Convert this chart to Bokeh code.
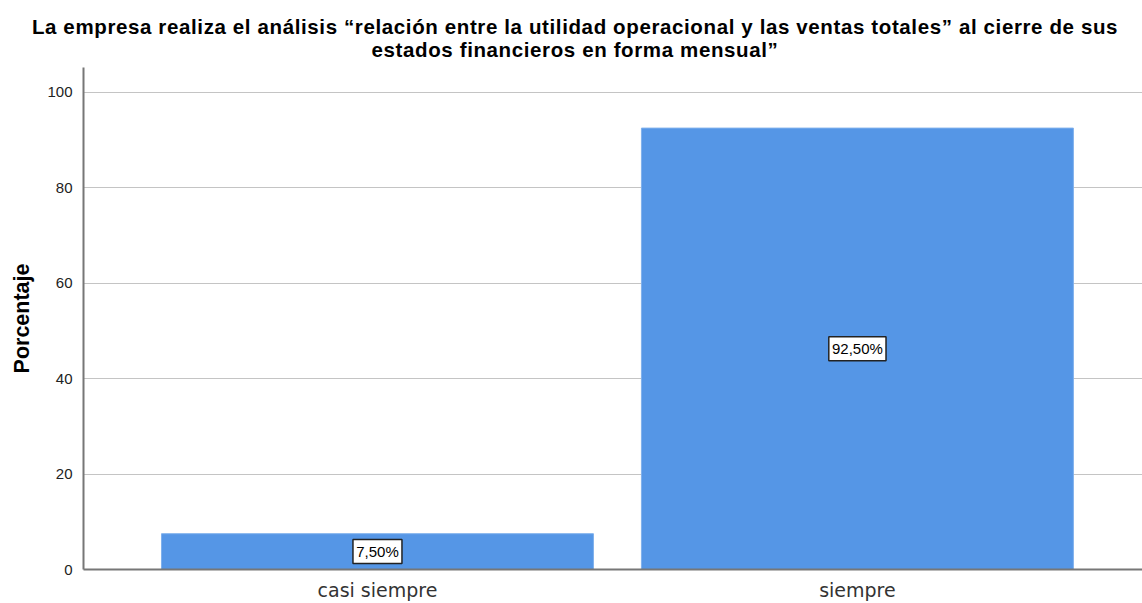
from bokeh.plotting import figure
from bokeh.models import ColumnDataSource, Range1d, FixedTicker, Div
from bokeh.layouts import column
from bokeh.core.properties import value
from bokeh.embed import file_html
from bokeh.resources import INLINE

categories = ["casi siempre", "siempre"]
values = [7.5, 92.5]
labels = ["7,50%", "92,50%"]
title_line1 = "La empresa realiza el análisis “relación entre la utilidad operacional y las ventas totales” al cierre de sus"
title_line2 = "estados financieros en forma mensual”"

xpos = list(range(len(categories)))
src = ColumnDataSource(dict(
    x=xpos, val=values, half=[v / 2 for v in values], lab=labels,
    boxw=[8.2 * len(s) + 8 for s in labels],  # box sized to its text
))

title_div = Div(
    text=(f'<div style="margin-left:8px; width:1134px; padding-top:15px; text-align:center; '
          f'font-family:\'Liberation Sans\', Arial, sans-serif; font-weight:bold; font-size:20.5px; '
          f'letter-spacing:0.62px; line-height:23px; color:#000;">{title_line1}<br>{title_line2}</div>'),
    width=1142, height=67, margin=0)

p = figure(width=1142, height=536, output_backend="svg", toolbar_location=None,
           x_range=Range1d(-0.6125, 1.594), y_range=Range1d(0, 105.2),
           min_border_left=83, min_border_right=0, min_border_bottom=32, min_border_top=0)
p.title = None

p.vbar(x="x", top="val", width=0.9, source=src, fill_color="#5596E6", line_color="#7FB0EC", line_width=1)

# value boxes
p.rect(x="x", y="half", width="boxw", height=24, width_units="screen", height_units="screen", source=src,
       fill_color="white", line_color="#222222", line_width=1.5)
p.text(x="x", y="half", text="lab", source=src, text_align="center", text_baseline="middle",
       text_font=value("Liberation Sans"), text_font_size="15px", text_color="#000000")

p.outline_line_color = None
p.xgrid.grid_line_color = None
p.ygrid.grid_line_color = "#C4C4C4"
p.ygrid.grid_line_width = 1
p.yaxis.ticker = FixedTicker(ticks=[0, 20, 40, 60, 80, 100])
p.yaxis.axis_label = "Porcentaje"
p.yaxis.axis_label_text_font = "Liberation Sans"
p.yaxis.axis_label_text_font_size = "21.5px"
p.yaxis.axis_label_text_font_style = "bold"
p.yaxis.axis_label_text_color = "#000000"
p.yaxis.axis_label_standoff = 10
p.yaxis.major_label_text_font = "Liberation Sans"
p.yaxis.major_label_text_font_size = "15px"
p.yaxis.major_label_text_color = "#222222"
p.yaxis.major_label_standoff = 5
p.yaxis.major_tick_line_color = None
p.yaxis.minor_tick_line_color = None
p.yaxis.axis_line_color = "#777777"
p.yaxis.axis_line_width = 2

p.xaxis.ticker = FixedTicker(ticks=xpos)
p.xaxis.major_label_overrides = {i: c for i, c in zip(xpos, categories)}
p.xaxis.major_label_text_font = "DejaVu Sans"
p.xaxis.major_label_text_font_size = "19px"
p.xaxis.major_label_text_color = "#333333"
p.xaxis.major_tick_line_color = None
p.xaxis.minor_tick_line_color = None
p.xaxis.axis_line_color = "#777777"
p.xaxis.axis_line_width = 2
p.xaxis.major_label_standoff = 3

layout = column(title_div, p, spacing=0)
open("out.html", "w").write(file_html(layout, INLINE))
